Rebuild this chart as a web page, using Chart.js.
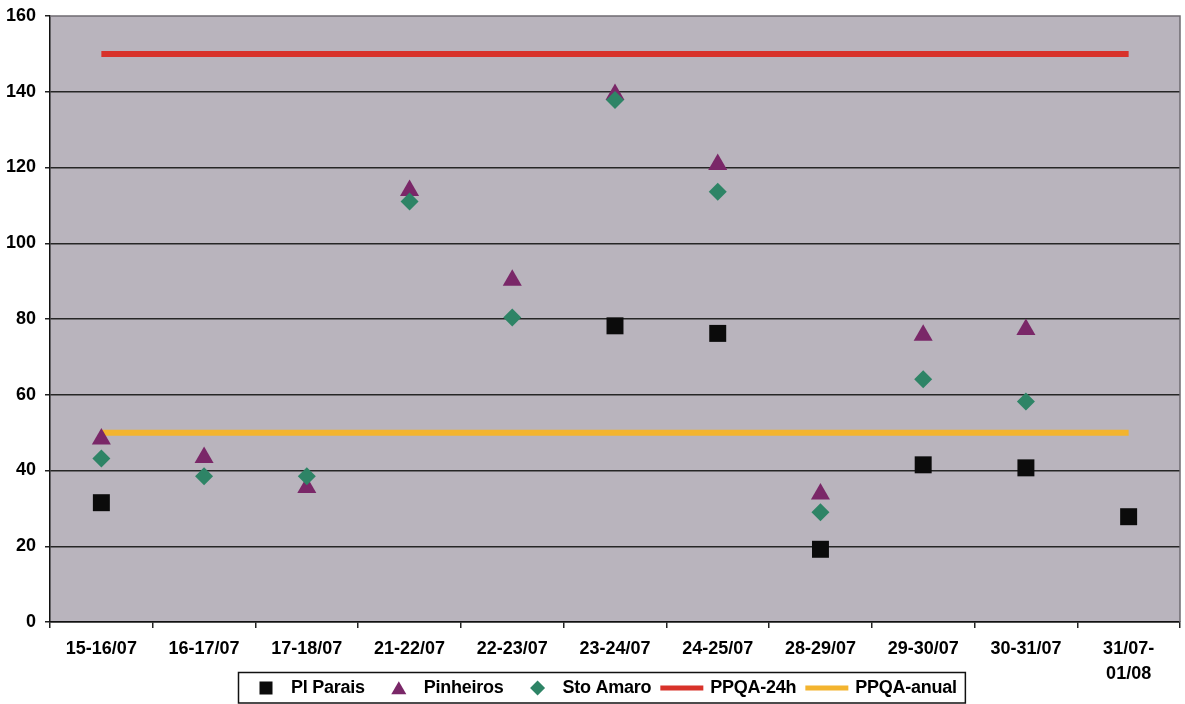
<!DOCTYPE html>
<html>
<head>
<meta charset="utf-8">
<script src="https://cdn.jsdelivr.net/npm/chart.js@4.4.1/dist/chart.umd.min.js"></script>
<style>
  html, body { margin: 0; padding: 0; background: #ffffff; }
  #wrap { width: 1185px; height: 704px; position: relative; }
</style>
</head>
<body>
<div id="wrap"><canvas id="c" width="1185" height="704"></canvas></div>
<script>
// Sampling periods (24h windows)
const periods = [
  '15-16/07', '16-17/07', '17-18/07', '21-22/07', '22-23/07', '23-24/07',
  '24-25/07', '28-29/07', '29-30/07', '30-31/07', ['31/07-', '01/08']
];

// Daily concentrations per station
const plParais  = [31.5, null, null, null, null, 78.2, 76.2, 19.2, 41.5, 40.7, 27.8];
const pinheiros = [48.3, 43.4, 35.5, 113.9, 90.2, 139.3, 120.8, 33.8, 75.7, 77.2, null];
const stoAmaro  = [43.2, 38.5, 38.5, 111.0, 80.4, 137.8, 113.6, 29.0, 64.1, 58.2, null];

// Air quality standards
const ppqa24h   = [150, 150, 150, 150, 150, 150, 150, 150, 150, 150, 150];
const ppqaAnual = [50, 50, 50, 50, 50, 50, 50, 50, 50, 50, 50];

// Value axis ticks
const yTicks = [0, 20, 40, 60, 80, 100, 120, 140, 160];

const FONT = '"Liberation Sans", Arial, Helvetica, sans-serif';

// Grey plot background and the thin frame on top/right
const plotFrame = {
  id: 'plotFrame',
  beforeDraw(chart) {
    const { ctx, chartArea: a } = chart;
    ctx.save();
    ctx.fillStyle = '#b9b4bd';
    ctx.fillRect(a.left, a.top, a.right - a.left, a.bottom - a.top);
    ctx.restore();
  },
  afterDatasetsDraw(chart) {
    const { ctx, chartArea: a } = chart;
    ctx.save();
    ctx.strokeStyle = '#6f6b72';
    ctx.lineWidth = 1.5;
    ctx.beginPath();
    ctx.moveTo(a.left, a.top);
    ctx.lineTo(a.right, a.top);
    ctx.lineTo(a.right, a.bottom);
    ctx.stroke();
    ctx.restore();
  }
};

// Boxed legend row under the axis, built from the datasets
const boxedLegend = {
  id: 'boxedLegend',
  afterDraw(chart) {
    const { ctx } = chart;
    const sets = chart.data.datasets;
    const cy = 688;
    ctx.save();
    ctx.font = 'bold 18px ' + FONT;
    if ('letterSpacing' in ctx) ctx.letterSpacing = '-0.25px';
    ctx.textBaseline = 'middle';
    ctx.textAlign = 'left';
    const x = 266;
    let prevEnd = null;
    const startX = x - 28;
    sets.forEach((ds) => {
      const isLine = ds.pointRadius === 0;
      let textX;
      if (isLine) {
        const lx = prevEnd === null ? x : prevEnd + 9;
        ctx.strokeStyle = ds.borderColor;
        ctx.lineWidth = 5;
        ctx.beginPath();
        ctx.moveTo(lx, cy);
        ctx.lineTo(lx + 43, cy);
        ctx.stroke();
        textX = lx + 50;
      } else {
        const mx = prevEnd === null ? x : prevEnd + 34;
        ctx.fillStyle = ds.backgroundColor;
        ctx.strokeStyle = ds.backgroundColor;
        const r = ds.pointStyle === 'rect' ? 9.2 : (ds.pointStyle === 'triangle' ? 8.7 : 7.5);
        const yOff = ds.pointStyle === 'triangle' ? 2 : 0;
        Chart.helpers.drawPoint(ctx, { pointStyle: ds.pointStyle, radius: r, rotation: 0, borderWidth: 0 }, mx, cy + yOff);
        textX = mx + 25;
      }
      ctx.fillStyle = '#000';
      ctx.fillText(ds.label, textX, cy);
      prevEnd = textX + ctx.measureText(ds.label).width;
    });
    const endX = prevEnd + 8;
    if ('letterSpacing' in ctx) ctx.letterSpacing = '0px';
    ctx.strokeStyle = '#111';
    ctx.lineWidth = 1.5;
    ctx.strokeRect(startX + 0.5, 672.5, endX - startX, 30.5);
    ctx.restore();
  }
};

const pointSeries = (label, data, style, radius, color, order) => ({
  label, data,
  showLine: false,
  pointStyle: style,
  pointRadius: radius,
  pointHoverRadius: radius,
  pointBorderWidth: 0,
  backgroundColor: color,
  borderColor: color,
  pointBackgroundColor: color,
  order
});

const limitLine = (label, data, color, order) => ({
  label, data,
  borderColor: color,
  backgroundColor: color,
  borderWidth: 6,
  pointRadius: 0,
  pointHoverRadius: 0,
  fill: false,
  tension: 0,
  borderCapStyle: 'butt',
  order
});

new Chart(document.getElementById('c'), {
  type: 'line',
  data: {
    labels: periods,
    datasets: [
      pointSeries('Pl Parais', plParais, 'rect', 12, '#0b0b0b', 2),
      pointSeries('Pinheiros', pinheiros, 'triangle', 11, '#7a2768', 1),
      pointSeries('Sto Amaro', stoAmaro, 'rectRot', 9, '#2e8466', 0),
      limitLine('PPQA-24h', ppqa24h, '#d8322a', 3),
      limitLine('PPQA-anual', ppqaAnual, '#f3b42f', 4)
    ]
  },
  options: {
    responsive: false,
    animation: false,
    devicePixelRatio: 1,
    layout: { autoPadding: false, padding: { left: 0, right: 5, top: 16, bottom: 0 } },
    plugins: {
      legend: { display: false },
      tooltip: { enabled: false },
      title: { display: false }
    },
    scales: {
      x: {
        type: 'category',
        offset: true,
        grid: {
          offset: true,
          drawOnChartArea: false,
          drawTicks: true,
          tickLength: 6,
          color: '#222',
          lineWidth: 1.5
        },
        border: { color: '#111', width: 1.5 },
        ticks: {
          autoSkip: false,
          maxRotation: 0,
          minRotation: 0,
          padding: 8,
          color: '#000',
          font: { family: FONT, size: 18, weight: 'bold', lineHeight: 1.4 }
        },
        afterFit(scale) {
          scale.height = 82;
          scale.paddingLeft = 0;
          scale.paddingRight = 0;
        }
      },
      y: {
        min: 0,
        max: 160,
        afterBuildTicks(scale) { scale.ticks = yTicks.map(v => ({ value: v })); },
        grid: {
          drawTicks: true,
          tickLength: 5,
          tickColor: '#222',
          lineWidth: 1.5,
          color: (c) => (c.tick && c.tick.value === 160) ? 'rgba(0,0,0,0)' : '#262626'
        },
        border: { color: '#111', width: 1.5 },
        ticks: {
          padding: 9,
          color: '#000',
          font: { family: FONT, size: 18, weight: 'bold' }
        },
        afterFit(scale) {
          scale.width = 50;
          scale.paddingTop = 0;
          scale.paddingBottom = 0;
        }
      }
    }
  },
  plugins: [plotFrame, boxedLegend]
});
</script>
</body>
</html>
